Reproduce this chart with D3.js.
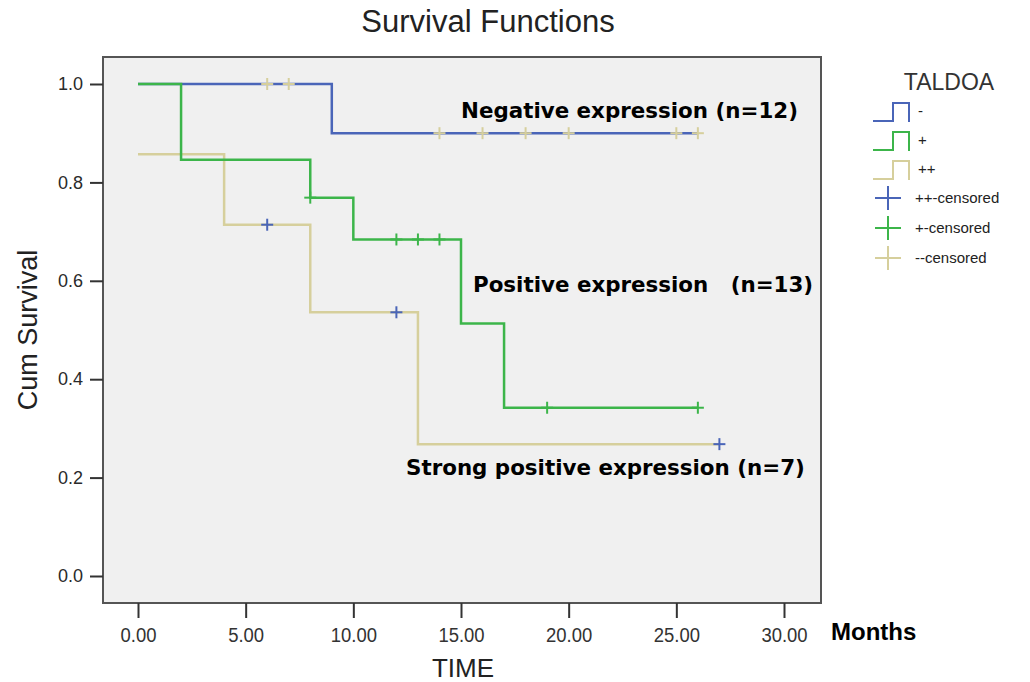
<!DOCTYPE html>
<html>
<head>
<meta charset="utf-8">
<script src="https://cdn.jsdelivr.net/npm/d3@7/dist/d3.min.js"></script>
<style>
  body { margin: 0; background: #fff; }
  svg text { font-family: Arial, "Liberation Sans", sans-serif; }
  .note { font-family: Verdana, "DejaVu Sans", sans-serif !important; font-weight: bold; font-size: 21.4px; fill: #000; }
</style>
</head>
<body>
<svg id="chart" width="1030" height="682"></svg>
<script>
// survival step data
var groupNames = ['-', '+', '++'];
var groupColors = ['#4a65b8', '#3cb54a', '#d6cf9c'];
// censor mark colours as SPSS drew them (legend labels swapped)
var censorColors = ['#d6cf9c', '#3cb54a', '#4a65b8'];

var negTimes = [0, 9];
var negSurv = [1.0, 0.9];
var negEnd = 26;
var negCensored = [6, 7, 14, 16, 18, 20, 25, 26];

var posTimes = [0, 2, 8, 10, 15, 17];
var posSurv = [1.0, 0.846, 0.769, 0.684, 0.513, 0.342];
var posEnd = 26;
var posCensored = [8, 12, 13, 14, 19, 26];

var strongTimes = [0, 4, 8, 13];
var strongSurv = [0.857, 0.714, 0.536, 0.268];
var strongEnd = 27;
var strongCensored = [6, 12, 27];

var xTicks = [0, 5, 10, 15, 20, 25, 30];
var yTicks = [0, 0.2, 0.4, 0.6, 0.8, 1.0];

var legendLabels = ['-', '+', '++', '++-censored', '+-censored', '--censored'];

var svg = d3.select('#chart');

var frame = { left: 103, top: 57, right: 821, bottom: 603 };
var x = d3.scaleLinear().domain([0, 30]).range([138, 784]);
var y = d3.scaleLinear().domain([0, 1]).range([576, 84]);

// Background panel
svg.append('rect')
  .attr('x', frame.left)
  .attr('y', frame.top)
  .attr('width', frame.right - frame.left)
  .attr('height', frame.bottom - frame.top)
  .attr('fill', '#f0f0f0')
  .attr('stroke', '#555')
  .attr('stroke-width', 2);

// Title
svg.append('text')
  .attr('x', 488).attr('y', 32)
  .attr('text-anchor', 'middle')
  .attr('font-size', 31)
  .attr('fill', '#222')
  .text('Survival Functions');

// Y axis
var yAxis = d3.axisLeft(y).tickValues(yTicks).tickFormat(d3.format('.1f')).tickSize(13).tickPadding(7);
var gy = svg.append('g').attr('transform', 'translate(' + frame.left + ',0)').call(yAxis);
gy.select('.domain').remove();
gy.selectAll('line').attr('stroke', '#333').attr('stroke-width', 2);
gy.selectAll('text').attr('font-size', 18).attr('fill', '#2a2a2a');

// X axis
var xAxis = d3.axisBottom(x).tickValues(xTicks).tickFormat(d3.format('.2f')).tickSize(15).tickPadding(9);
var gx = svg.append('g').attr('transform', 'translate(0,' + frame.bottom + ')').call(xAxis);
gx.select('.domain').remove();
gx.selectAll('line').attr('stroke', '#333').attr('stroke-width', 2);
gx.selectAll('text').attr('font-size', 21).attr('fill', '#333')
  .attr('transform', 'scale(0.88,1)');

svg.append('text')
  .attr('x', 831).attr('y', 640)
  .attr('font-size', 24).attr('font-weight', 'bold').attr('fill', '#000')
  .text('Months');

svg.append('text')
  .attr('x', 463).attr('y', 677)
  .attr('text-anchor', 'middle')
  .attr('font-size', 26).attr('fill', '#222')
  .text('TIME');

svg.append('text')
  .attr('transform', 'translate(37,330) rotate(-90)')
  .attr('text-anchor', 'middle')
  .attr('font-size', 27).attr('fill', '#222')
  .text('Cum Survival');

// Curves
var series = [
  { times: negTimes, surv: negSurv, end: negEnd, cens: negCensored },
  { times: posTimes, surv: posSurv, end: posEnd, cens: posCensored },
  { times: strongTimes, surv: strongSurv, end: strongEnd, cens: strongCensored }
];

function survAt(s, t) {
  var v = s.surv[0];
  for (var i = 0; i < s.times.length; i++) {
    if (s.times[i] <= t) v = s.surv[i];
  }
  return v;
}

var line = d3.line()
  .x(function(d) { return x(d[0]); })
  .y(function(d) { return y(d[1]); })
  .curve(d3.curveStepAfter);

var drawOrder = [0, 2, 1];
drawOrder.forEach(function(i) {
  var s = series[i];
  var pts = s.times.map(function(t, k) { return [t, s.surv[k]]; });
  pts.push([s.end, s.surv[s.surv.length - 1]]);
  svg.append('path')
    .attr('d', line(pts))
    .attr('fill', 'none')
    .attr('stroke', groupColors[i])
    .attr('stroke-width', 2.5);
});

drawOrder.forEach(function(i) {
  var s = series[i];
  s.cens.forEach(function(t) {
    var cx = x(t), cy = y(survAt(s, t));
    var g = svg.append('g').attr('stroke', censorColors[i]).attr('stroke-width', 2);
    g.append('line').attr('x1', cx - 6).attr('x2', cx + 6).attr('y1', cy).attr('y2', cy);
    g.append('line').attr('x1', cx).attr('x2', cx).attr('y1', cy - 6).attr('y2', cy + 6);
  });
});

// Annotations
svg.append('text').attr('class', 'note').attr('x', 461).attr('y', 118)
  .text('Negative expression (n=12)');
svg.append('text').attr('class', 'note').attr('x', 473).attr('y', 292)
  .attr('xml:space', 'preserve').style('white-space', 'pre')
  .text('Positive expression   (n=13)');
svg.append('text').attr('class', 'note').attr('x', 406).attr('y', 475)
  .text('Strong positive expression (n=7)');

// Legend
var lg = svg.append('g');
lg.append('text')
  .attr('x', 949).attr('y', 90)
  .attr('text-anchor', 'middle')
  .attr('font-size', 23).attr('fill', '#333')
  .text('TALDOA');

var stepTops = [103, 132, 161];
stepTops.forEach(function(top, i) {
  var bot = top + 18;
  lg.append('path')
    .attr('d', 'M873,' + bot + 'H893V' + top + 'H909V' + (bot + 1))
    .attr('fill', 'none')
    .attr('stroke', groupColors[i])
    .attr('stroke-width', 2);
  lg.append('text')
    .attr('x', 918).attr('y', top + 13)
    .attr('font-size', 15).attr('fill', '#222')
    .text(legendLabels[i]);
});

var crossY = [198, 228, 258];
var crossColors = ['#4a65b8', '#3cb54a', '#d6cf9c'];
crossY.forEach(function(cy, i) {
  var g = lg.append('g').attr('stroke', crossColors[i]).attr('stroke-width', 2);
  g.append('line').attr('x1', 875).attr('x2', 901).attr('y1', cy).attr('y2', cy);
  g.append('line').attr('x1', 888).attr('x2', 888).attr('y1', cy - 12).attr('y2', cy + 12);
  lg.append('text')
    .attr('x', 915).attr('y', cy + 5)
    .attr('font-size', 15).attr('fill', '#222')
    .text(legendLabels[3 + i]);
});
</script>
</body>
</html>
